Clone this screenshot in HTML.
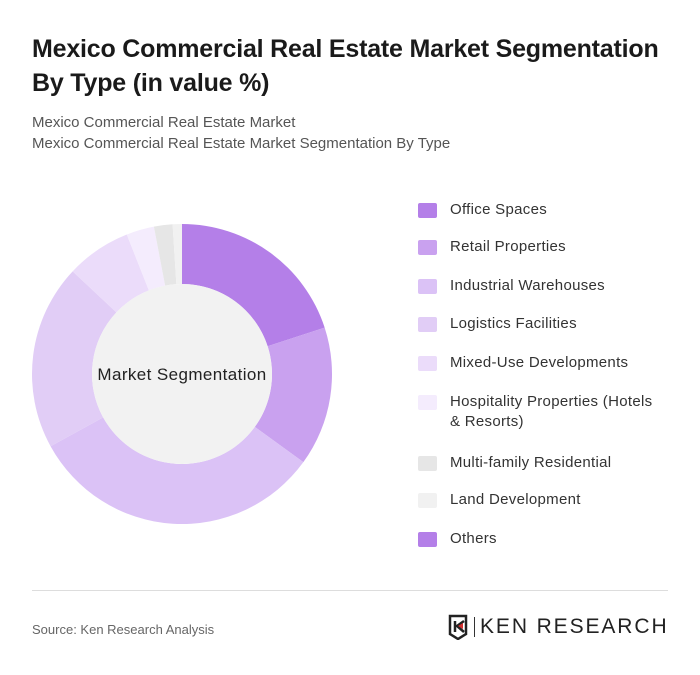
<!DOCTYPE html>
<html><head><meta charset="utf-8"><style>
body{margin:0;width:700px;height:675px;background:#fff;font-family:"Liberation Sans",sans-serif;position:relative;overflow:hidden}
.t{position:absolute;left:32px;top:32px;font-size:25px;font-weight:bold;color:#1a1a1a;line-height:34px;letter-spacing:-0.2px}
.s{position:absolute;left:32px;font-size:15px;color:#555}
.leg{position:absolute;left:418px;font-size:15px;color:#333;line-height:20px;letter-spacing:0.3px}
.sw{position:absolute;left:0;top:3px;width:19px;height:15px;border-radius:2px}
.lt{position:absolute;left:32px;white-space:nowrap}
</style></head><body>
<div class="t">Mexico Commercial Real Estate Market Segmentation<br>By Type (in value %)</div>
<div class="s" style="top:114px">Mexico Commercial Real Estate Market</div>
<div class="s" style="top:135px">Mexico Commercial Real Estate Market Segmentation By Type</div>
<svg id="chart" width="700" height="675" style="position:absolute;left:0;top:0"></svg>
<div id="legend"></div>
<div style="position:absolute;left:32px;top:590px;width:636px;height:1px;background:#ddd"></div>
<div style="position:absolute;left:32px;top:622px;font-size:13px;color:#666">Source: Ken Research Analysis</div>
<div style="position:absolute;left:448px;top:614px;width:222px;height:26px">
<svg width="22" height="26" style="position:absolute;left:0;top:0"><path d="M2 2h16v18l-8 5-8-5z" fill="none" stroke="#222" stroke-width="2.5"/><path d="M7 7v11M16 7l-7 5 7 6" fill="none" stroke="#222" stroke-width="2.5"/><path d="M10 12l5-3v6z" fill="#d32f2f"/></svg>
<div style="position:absolute;left:26px;top:3px;width:1px;height:20px;background:#333"></div>
<div style="position:absolute;left:32px;top:1px;font-size:21px;color:#222;letter-spacing:1.9px">KEN RESEARCH</div>
</div>
<script>
const categories=["Office Spaces","Retail Properties","Industrial Warehouses","Logistics Facilities","Mixed-Use Developments","Hospitality Properties (Hotels & Resorts)","Multi-family Residential","Land Development","Others"];
const values=[20,15,32,20,7,3,2,1,0];
const colors=["#b47fe8","#c9a1ef","#dbc2f6","#e1cdf6","#ebdcfa","#f4ecfd","#e6e6e6","#f1f1f1","#b47fe8"];
const ns="http://www.w3.org/2000/svg";
const svg=document.getElementById('chart');
const cx=182,cy=374,R=150,r=90;
const total=values.reduce((a,b)=>a+b,0);
function pt(a,rad){return [cx+rad*Math.sin(a),cy-rad*Math.cos(a)];}
let acc=0;
values.forEach((v,i)=>{
 if(v<=0)return;
 const a0=acc/total*2*Math.PI;acc+=v;const a1=acc/total*2*Math.PI;
 const lg=(a1-a0)>Math.PI?1:0;
 const [x0,y0]=pt(a0,R),[x1,y1]=pt(a1,R),[x2,y2]=pt(a1,r),[x3,y3]=pt(a0,r);
 const p=document.createElementNS(ns,'path');
 p.setAttribute('d',`M${x0},${y0}A${R},${R} 0 ${lg} 1 ${x1},${y1}L${x2},${y2}A${r},${r} 0 ${lg} 0 ${x3},${y3}Z`);
 p.setAttribute('fill',colors[i]);
 
 
 svg.appendChild(p);
});
const c=document.createElementNS(ns,'circle');
c.setAttribute('cx',cx);c.setAttribute('cy',cy);c.setAttribute('r',r);c.setAttribute('fill','#f2f2f2');


svg.appendChild(c);
const t=document.createElementNS(ns,'text');
t.setAttribute('x',cx);t.setAttribute('y',cy+6);t.setAttribute('text-anchor','middle');t.setAttribute('font-size','17');t.setAttribute('letter-spacing','0.4');t.setAttribute('fill','#222');t.setAttribute('font-family','Liberation Sans, sans-serif');
t.textContent='Market Segmentation';


svg.appendChild(t);
const legTops=[200,237,276,314,353,392,453,490,529];
const lg=document.getElementById('legend');
categories.forEach((n,i)=>{
 const d=document.createElement('div');d.className='leg';d.style.top=legTops[i]+'px';
 
 
 const parts=n==="Hospitality Properties (Hotels & Resorts)"?"Hospitality Properties (Hotels<br>&amp; Resorts)":n.replace('&','&amp;');
 d.innerHTML=`<div class="sw" style="background:${colors[i]}"></div><div class="lt">${parts}</div>`;
 lg.appendChild(d);
});
</script>
</body></html>
